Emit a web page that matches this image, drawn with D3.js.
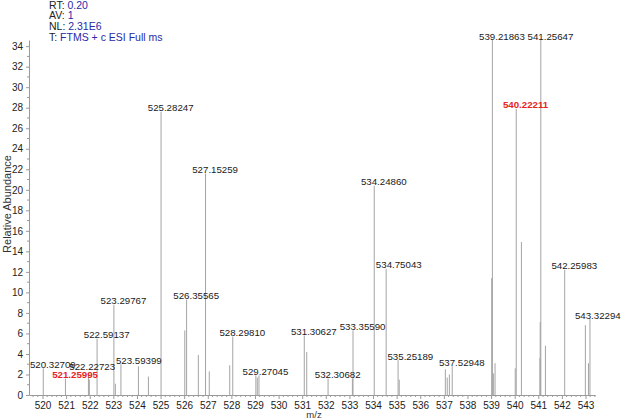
<!DOCTYPE html>
<html><head><meta charset="utf-8">
<script src="https://cdn.jsdelivr.net/npm/d3@7"></script>
<style>
body{margin:0;background:#fff}
svg{display:block}
text{font-family:"Liberation Sans",Arial,sans-serif}
</style>
</head><body>
<svg id="chart" width="621" height="418"></svg>
<script>
// ---- data ----
const peakMz = [520.327,521.260,522.227,522.265,522.591,523.298,523.36,523.594,524.33,524.75,
  525.282,526.28,526.356,526.85,527.153,527.31,528.17,528.298,529.270,529.33,529.40,
  531.306,531.41,532.307,533.33,533.356,534.249,534.750,535.252,535.30,
  537.24,537.32,537.41,537.529,539.19,539.219,539.26,539.33,540.18,540.222,540.44,
  541.22,541.23,541.256,541.45,542.260,543.13,543.26,543.323];
const peakAbundance = [2.6,1.6,2.1,1.5,5.5,8.8,1.1,3.0,2.8,1.8,
  27.6,6.3,9.3,3.9,21.6,2.3,2.9,5.7,1.9,1.7,1.9,
  5.8,4.2,1.6,1.6,6.3,20.4,12.3,3.4,1.5,
  2.5,1.7,2.0,2.8,11.4,34.6,2.1,3.1,2.6,27.9,14.9,
  3.6,7.1,34.6,4.8,12.2,6.8,3.1,7.4];
const labelText = ["520.32709","521.25995","522.22723","522.59137","523.29767","523.59399",
  "525.28247","526.35565","527.15259","528.29810","529.27045","531.30627","532.30682",
  "533.35590","534.24860","534.75043","535.25189","537.52948","539.21863","540.22211",
  "541.25647","542.25983","543.32294"];
const highlightLabels = ["521.25995","540.22211"];
const headerKeys = ["RT:","AV:","NL:","T:"];
const headerValues = ["0.20","1","2.31E6","FTMS + c ESI Full ms"];
const xTickValues = d3.range(520, 544);
const yTickValues = d3.range(0, 35, 2);
const xTitle = "m/z";
const yTitle = "Relative Abundance";

// ---- layout ----
const svg = d3.select("#chart");
const x = d3.scaleLinear().domain([519.727, 543.535]).range([29, 595]);      // peaks
const xt = d3.scaleLinear().domain([519.428, 543.402]).range([29, 595]);     // axis ticks
const y = d3.scaleLinear().domain([0, 34.6]).range([395, 40]);
const axisColor = "#9a9a9a";
const labelNudge = {"522.22723":[-5.8,-3],"523.59399":[8.3,0],"534.75043":[3,0],"535.25189":[2.7,0],"543.32294":[-1.7,0]};

// minor x ticks
const minorX = d3.range(0, 130).map(i => 519.6 + i * 0.2)
  .filter(v => v <= 543.4 && Math.abs(v - Math.round(v)) > 0.01);
svg.append("g").selectAll("line").data(minorX).join("line")
  .attr("x1", d => xt(d)).attr("x2", d => xt(d))
  .attr("y1", y(0)).attr("y2", y(0) + 2)
  .attr("stroke", axisColor).attr("stroke-width", 1);
// minor y ticks
svg.append("g").selectAll("line").data(d3.range(1, 35, 2)).join("line")
  .attr("x1", x.range()[0]).attr("x2", x.range()[0] - 2)
  .attr("y1", d => y(d)).attr("y2", d => y(d))
  .attr("stroke", axisColor).attr("stroke-width", 1);

const xAxis = svg.append("g").attr("transform", `translate(0,${y(0)})`)
  .call(d3.axisBottom(xt).tickValues(xTickValues).tickFormat(d3.format("d")).tickSize(4).tickSizeOuter(0));
const yAxis = svg.append("g").attr("transform", `translate(${x.range()[0]},0)`)
  .call(d3.axisLeft(y).tickValues(yTickValues).tickFormat(d3.format("d")).tickSize(3).tickSizeOuter(0));
[xAxis, yAxis].forEach(g => {
  g.select(".domain").attr("stroke", axisColor);
  g.selectAll(".tick line").attr("stroke", axisColor);
  g.selectAll(".tick text").attr("fill", "#222").style("font-size", "10px")
    .style("font-family", '"Liberation Sans",Arial,sans-serif');
});

// peaks
svg.append("g").selectAll("line").data(peakMz.map((m, i) => [m, peakAbundance[i]])).join("line")
  .attr("x1", d => x(d[0])).attr("x2", d => x(d[0]))
  .attr("y1", y(0)).attr("y2", d => y(d[1]))
  .attr("stroke", "#a4a4a4").attr("stroke-width", 1);

// peak labels
function abundanceFor(m) {
  let best = 0, bd = Infinity;
  peakMz.forEach((p, i) => { const dd = Math.abs(p - m); if (dd < bd) { bd = dd; best = i; } });
  return peakAbundance[best];
}
svg.append("g").selectAll("text").data(labelText).join("text")
  .attr("x", d => x(+d) - 13.3 + (labelNudge[d] ? labelNudge[d][0] : 0))
  .attr("y", d => y(abundanceFor(+d)) - 0.5 + (labelNudge[d] ? labelNudge[d][1] : 0))
  .style("font-size", "9.7px")
  .style("font-weight", d => highlightLabels.includes(d) ? "bold" : "normal")
  .attr("fill", d => highlightLabels.includes(d) ? "#e8231e" : "#1a1a1a")
  .text(d => d);

// header
const hdr = svg.append("g");
headerKeys.forEach((k, i) => {
  const t = hdr.append("text").attr("x", 49).attr("y", 8.5 + i * 10.8).style("font-size", "10.5px");
  t.append("tspan").attr("fill", "#222").text(k + " ");
  t.append("tspan").attr("fill", "#2a2aa8").text(headerValues[i]);
});

// axis titles
svg.append("text").attr("x", 314).attr("y", 417.5).attr("text-anchor", "middle")
  .style("font-size", "9.5px").attr("fill", "#333").text(xTitle);
svg.append("text").attr("transform", "translate(11,204) rotate(-90)").attr("text-anchor", "middle")
  .style("font-size", "11px").attr("fill", "#333").text(yTitle);
</script>
</body></html>
